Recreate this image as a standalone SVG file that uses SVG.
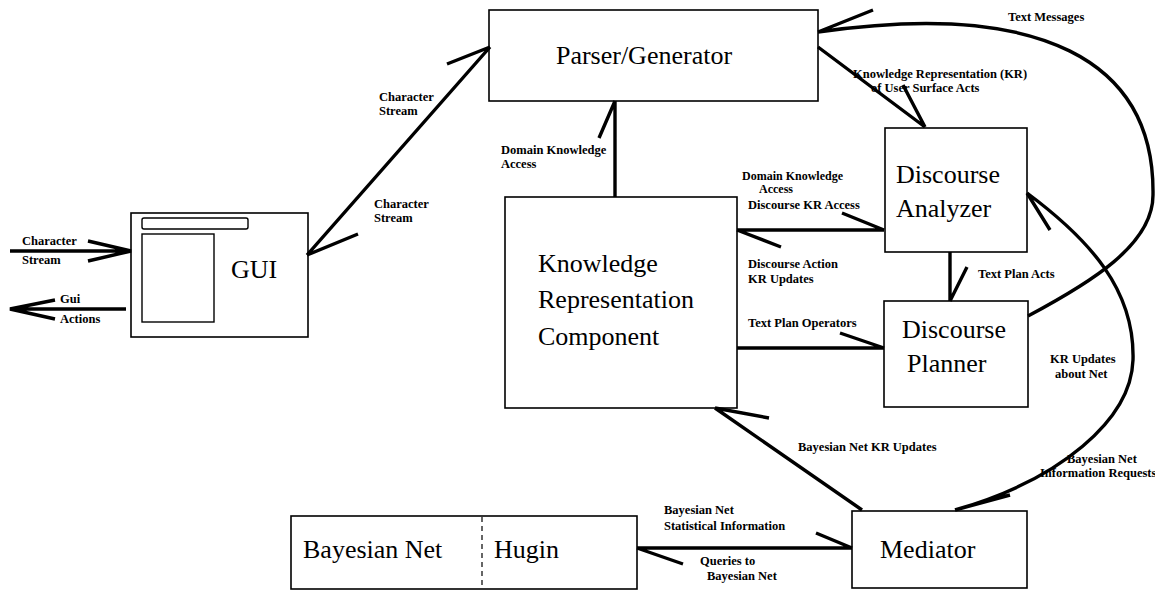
<svg xmlns="http://www.w3.org/2000/svg" width="1155" height="591" viewBox="0 0 1155 591">
  <style>
    .box { fill: #fff; stroke: #000; stroke-width: 1.6; }
    .thin { fill: none; stroke: #000; stroke-width: 1.4; }
    .title { font-family: "Liberation Serif", "Times New Roman", serif; font-size: 26px; fill: #000; }
    .lbl { font-family: "Liberation Serif", "Times New Roman", serif; font-size: 12.5px; font-weight: bold; fill: #000; }
    .small { font-size: 12px; }
    .wire { fill: none; stroke: #000; stroke-width: 3.4; stroke-linecap: butt; stroke-linejoin: miter; }
  </style>
  <rect width="1155" height="591" fill="#fff"/>

  <!-- nodes -->
  <g id="parser-generator">
    <rect class="box" x="489" y="10" width="329" height="91"/>
    <text class="title" x="644" y="64" text-anchor="middle">Parser/Generator</text>
  </g>

  <g id="gui">
    <rect class="box" x="131" y="213" width="177" height="124"/>
    <rect class="thin" x="142" y="218" width="106" height="11" rx="2"/>
    <rect class="thin" x="142" y="234" width="72" height="88"/>
    <text class="title" x="231" y="278">GUI</text>
  </g>

  <g id="kr-component">
    <rect class="box" x="505" y="197" width="232" height="211"/>
    <text class="title" x="538" y="272">Knowledge</text>
    <text class="title" x="538" y="308">Representation</text>
    <text class="title" x="538" y="345">Component</text>
  </g>

  <g id="discourse-analyzer">
    <rect class="box" x="885" y="128" width="142" height="124"/>
    <text class="title" x="896" y="183">Discourse</text>
    <text class="title" x="896" y="217">Analyzer</text>
  </g>

  <g id="discourse-planner">
    <rect class="box" x="884" y="301" width="144" height="106"/>
    <text class="title" x="902" y="338">Discourse</text>
    <text class="title" x="907" y="372">Planner</text>
  </g>

  <g id="mediator">
    <rect class="box" x="852" y="511" width="175" height="77"/>
    <text class="title" x="880" y="558">Mediator</text>
  </g>

  <g id="bayesian-net-hugin">
    <rect class="box" x="291" y="516" width="346" height="73"/>
    <line x1="482" y1="517" x2="482" y2="588" stroke="#000" stroke-width="1.2" stroke-dasharray="5 4"/>
    <text class="title" x="303" y="558">Bayesian Net</text>
    <text class="title" x="494" y="558">Hugin</text>
  </g>

  <!-- connectors: shafts with one-sided barbs -->
  <g id="connectors">
    <!-- external character stream into the GUI -->
    <path class="wire" d="M10 251 L131 251 M88 241 L131 251 L88 261"/>
    <!-- GUI actions out -->
    <path class="wire" d="M126 309 L10 309 M55 300 L10 309 L55 319"/>
    <!-- GUI <-> Parser/Generator -->
    <path class="wire" d="M307 255 L490 47 M447 64 L490 47 M358 234 L307 255"/>
    <!-- KR component -> Parser/Generator -->
    <path class="wire" d="M615 197 L615 101 M599 138 L615 101"/>
    <!-- Parser/Generator -> Discourse Analyzer -->
    <path class="wire" d="M818 47 L925 127 M903 85 L925 127"/>
    <!-- KR component <-> Discourse Analyzer -->
    <path class="wire" d="M737 230 L884 230 M842 213 L884 230 M737 230 L781 247"/>
    <!-- Discourse Analyzer -> Discourse Planner -->
    <path class="wire" d="M950 252 L950 301 M967 267 L950 301"/>
    <!-- KR component -> Discourse Planner -->
    <path class="wire" d="M737 348 L884 348 M840 333 L884 348"/>
    <!-- Discourse Planner -> Parser/Generator (text messages) -->
    <path class="wire" d="M1028 316 C1090 283 1153 245 1153 195 C1155 60 1040 0 818 32 M873 10 L818 32"/>
    <!-- Mediator <-> Discourse Analyzer -->
    <path class="wire" d="M1027 193 C1090 240 1135 290 1133 360 C1131 420 1060 480 955 510 M1050 230 L1027 193 M1010 495 L955 510"/>
    <!-- Mediator -> KR component -->
    <path class="wire" d="M862 510 L715 408 M769 418 L715 408"/>
    <!-- Mediator <-> Bayesian Net -->
    <path class="wire" d="M637 548 L852 548 M816 533 L852 548 M637 548 L683 564"/>
  </g>

  <!-- connector labels -->
  <g id="labels">
    <text class="lbl" x="22" y="245">Character</text>
    <text class="lbl" x="22" y="264">Stream</text>
    <text class="lbl" x="60" y="303">Gui</text>
    <text class="lbl" x="60" y="323">Actions</text>
    <text class="lbl" x="379" y="101">Character</text>
    <text class="lbl" x="379" y="115">Stream</text>
    <text class="lbl" x="374" y="208">Character</text>
    <text class="lbl" x="374" y="222">Stream</text>
    <text class="lbl" x="501" y="154">Domain Knowledge</text>
    <text class="lbl" x="501" y="168">Access</text>
    <text class="lbl small" x="742" y="180">Domain Knowledge</text>
    <text class="lbl small" x="759" y="193">Access</text>
    <text class="lbl" x="748" y="209">Discourse KR Access</text>
    <text class="lbl" x="748" y="268">Discourse Action</text>
    <text class="lbl" x="748" y="283">KR Updates</text>
    <text class="lbl" x="853" y="78">Knowledge Representation (KR)</text>
    <text class="lbl" x="871" y="92">of User Surface Acts</text>
    <text class="lbl" x="1008" y="21">Text Messages</text>
    <text class="lbl" x="978" y="278">Text Plan Acts</text>
    <text class="lbl" x="748" y="327">Text Plan Operators</text>
    <text class="lbl" x="1050" y="363">KR Updates</text>
    <text class="lbl" x="1055" y="378">about  Net</text>
    <text class="lbl" x="798" y="451">Bayesian Net KR Updates</text>
    <text class="lbl" x="1067" y="463">Bayesian Net</text>
    <text class="lbl" x="1040" y="477">Information Requests</text>
    <text class="lbl" x="664" y="514">Bayesian Net</text>
    <text class="lbl" x="664" y="530">Statistical Information</text>
    <text class="lbl" x="700" y="565">Queries to</text>
    <text class="lbl" x="707" y="580">Bayesian Net</text>
  </g>
</svg>
